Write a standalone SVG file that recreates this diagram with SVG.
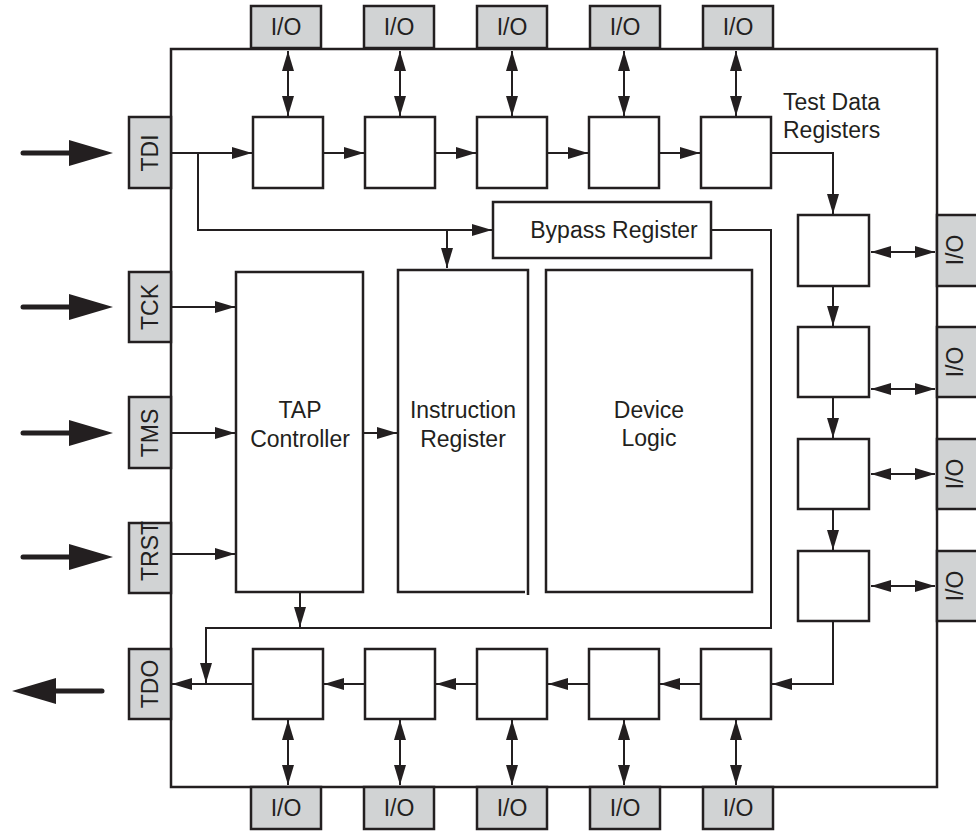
<svg xmlns="http://www.w3.org/2000/svg" width="976" height="831" viewBox="0 0 976 831">
<style>
.chip{fill:#fff;stroke:#231f20;stroke-width:2.5}
.reg{fill:#fff;stroke:#231f20;stroke-width:2.5}
.pin{fill:#d1d3d4;stroke:#231f20;stroke-width:2.5}
.t{font-family:"Liberation Sans",Arial,sans-serif;font-size:23px;fill:#231f20;text-anchor:middle}
.tl{font-family:"Liberation Sans",Arial,sans-serif;font-size:23px;fill:#231f20}
.c{fill:none;stroke:#231f20;stroke-width:2}
.a{marker-end:url(#ah)}
.d{marker-start:url(#ah);marker-end:url(#ah)}
.big{fill:none;stroke:#231f20;stroke-width:5;stroke-linecap:round}
.bh{fill:#231f20}
</style>
<defs>
<marker id="ah" markerUnits="userSpaceOnUse" markerWidth="22" markerHeight="14" refX="20" refY="6" orient="auto-start-reverse" viewBox="0 0 22 12">
<path d="M0,0 L20,6 L0,12 z" fill="#231f20"/>
</marker>
</defs>
<rect width="976" height="831" fill="#fff"/>
<g id="chip"><rect class="chip" x="171" y="49" width="766" height="738"/></g>

<g id="io-top-1"><rect class="pin" x="251" y="6" width="70" height="42"/><text class="t" x="286" y="35">I/O</text></g>
<g id="io-top-2"><rect class="pin" x="364" y="6" width="70" height="42"/><text class="t" x="399" y="35">I/O</text></g>
<g id="io-top-3"><rect class="pin" x="477" y="6" width="70" height="42"/><text class="t" x="512" y="35">I/O</text></g>
<g id="io-top-4"><rect class="pin" x="590" y="6" width="70" height="42"/><text class="t" x="625" y="35">I/O</text></g>
<g id="io-top-5"><rect class="pin" x="703" y="6" width="70" height="42"/><text class="t" x="738" y="35">I/O</text></g>

<g id="io-bot-1"><rect class="pin" x="251" y="787" width="70" height="42"/><text class="t" x="286" y="816">I/O</text></g>
<g id="io-bot-2"><rect class="pin" x="364" y="787" width="70" height="42"/><text class="t" x="399" y="816">I/O</text></g>
<g id="io-bot-3"><rect class="pin" x="477" y="787" width="70" height="42"/><text class="t" x="512" y="816">I/O</text></g>
<g id="io-bot-4"><rect class="pin" x="590" y="787" width="70" height="42"/><text class="t" x="625" y="816">I/O</text></g>
<g id="io-bot-5"><rect class="pin" x="703" y="787" width="70" height="42"/><text class="t" x="738" y="816">I/O</text></g>

<g id="io-right-1"><rect class="pin" x="937" y="215" width="45" height="71"/><text class="t" transform="translate(955,250) rotate(-90)" y="8">I/O</text></g>
<g id="io-right-2"><rect class="pin" x="937" y="327" width="45" height="70"/><text class="t" transform="translate(955,362) rotate(-90)" y="8">I/O</text></g>
<g id="io-right-3"><rect class="pin" x="937" y="439" width="45" height="70"/><text class="t" transform="translate(955,474) rotate(-90)" y="8">I/O</text></g>
<g id="io-right-4"><rect class="pin" x="937" y="551" width="45" height="70"/><text class="t" transform="translate(955,586) rotate(-90)" y="8">I/O</text></g>

<g id="pin-tdi"><rect class="pin" x="129" y="117" width="42" height="71"/><text class="t" transform="translate(150,153) rotate(-90)" y="8">TDI</text></g>
<g id="pin-tck"><rect class="pin" x="129" y="272" width="42" height="70"/><text class="t" transform="translate(150,307) rotate(-90)" y="8">TCK</text></g>
<g id="pin-tms"><rect class="pin" x="129" y="397" width="42" height="71"/><text class="t" transform="translate(150,433) rotate(-90)" y="8">TMS</text></g>
<g id="pin-trst"><rect class="pin" x="129" y="523" width="42" height="70"/><text class="t" transform="translate(150,551) rotate(-90)" y="8" font-size="24">TRST</text></g>
<g id="pin-tdo"><rect class="pin" x="129" y="649" width="42" height="70"/><text class="t" transform="translate(150,684) rotate(-90)" y="8">TDO</text></g>

<g id="reg-top-1"><rect class="reg" x="253" y="117" width="70" height="71"/></g>
<g id="reg-top-2"><rect class="reg" x="365" y="117" width="70" height="71"/></g>
<g id="reg-top-3"><rect class="reg" x="477" y="117" width="70" height="71"/></g>
<g id="reg-top-4"><rect class="reg" x="589" y="117" width="70" height="71"/></g>
<g id="reg-top-5"><rect class="reg" x="701" y="117" width="70" height="71"/></g>

<g id="reg-right-1"><rect class="reg" x="798" y="215" width="71" height="71"/></g>
<g id="reg-right-2"><rect class="reg" x="798" y="327" width="71" height="70"/></g>
<g id="reg-right-3"><rect class="reg" x="798" y="439" width="71" height="70"/></g>
<g id="reg-right-4"><rect class="reg" x="798" y="551" width="71" height="70"/></g>

<g id="reg-bot-1"><rect class="reg" x="253" y="649" width="70" height="70"/></g>
<g id="reg-bot-2"><rect class="reg" x="365" y="649" width="70" height="70"/></g>
<g id="reg-bot-3"><rect class="reg" x="477" y="649" width="70" height="70"/></g>
<g id="reg-bot-4"><rect class="reg" x="589" y="649" width="70" height="70"/></g>
<g id="reg-bot-5"><rect class="reg" x="701" y="649" width="70" height="70"/></g>

<g id="test-data-label"><text class="tl" x="783" y="110">Test Data</text><text class="tl" x="783" y="138">Registers</text></g>

<g id="bypass"><rect class="reg" x="493" y="202" width="218" height="56"/><text class="t" x="614" y="238">Bypass Register</text></g>
<g id="tap"><rect class="reg" x="236" y="272" width="127" height="320"/><text class="t" x="300" y="418">TAP</text><text class="t" x="300" y="447">Controller</text></g>
<g id="ir"><path class="reg" fill="none" d="M528,595 V270 H398 V592 H525"/><text class="t" x="463" y="418">Instruction</text><text class="t" x="463" y="447">Register</text></g>
<g id="logic"><rect class="reg" x="546" y="270" width="206" height="322"/><text class="t" x="649" y="418">Device</text><text class="t" x="649" y="446">Logic</text></g>

<g id="connectors">
<g id="external">
<line class="big" x1="23" y1="153" x2="75" y2="153"/><path class="bh" d="M69,140 L113,153 L69,166 z"/>
<line class="big" x1="23" y1="307" x2="75" y2="307"/><path class="bh" d="M69,294 L113,307 L69,320 z"/>
<line class="big" x1="23" y1="433" x2="75" y2="433"/><path class="bh" d="M69,420 L113,433 L69,446 z"/>
<line class="big" x1="23" y1="557" x2="75" y2="557"/><path class="bh" d="M69,544 L113,557 L69,570 z"/>
<line class="big" x1="50" y1="691" x2="102" y2="691"/><path class="bh" d="M56,678 L12,691 L56,704 z"/>
</g>
<path class="c a" d="M171,153 H252"/>
<path class="c a" d="M323,153 H364"/>
<path class="c a" d="M435,153 H476"/>
<path class="c a" d="M547,153 H588"/>
<path class="c a" d="M659,153 H700"/>
<path class="c a" d="M771,153 H833 V214"/>
<path class="c a" d="M833,286 V326"/>
<path class="c a" d="M833,397 V438"/>
<path class="c a" d="M833,509 V550"/>
<path class="c a" d="M833,621 V684 H772"/>
<path class="c a" d="M701,684 H660"/>
<path class="c a" d="M589,684 H548"/>
<path class="c a" d="M477,684 H436"/>
<path class="c a" d="M365,684 H324"/>
<path class="c a" d="M253,684 H172"/>
<path class="c a" d="M198,153 V230 H492"/>
<path class="c a" d="M447,230 V268"/>
<path class="c a" d="M711,230 H771 V628 H206 V683"/>
<path class="c a" d="M300,593 V627"/>
<path class="c a" d="M171,307 H235"/>
<path class="c a" d="M171,433 H235"/>
<path class="c a" d="M171,554 H235"/>
<path class="c a" d="M363,433 H397"/>
<path class="c d" d="M288,51 V116"/>
<path class="c d" d="M400,51 V116"/>
<path class="c d" d="M512,51 V116"/>
<path class="c d" d="M624,51 V116"/>
<path class="c d" d="M736,51 V116"/>
<path class="c d" d="M288,720 V785"/>
<path class="c d" d="M400,720 V785"/>
<path class="c d" d="M512,720 V785"/>
<path class="c d" d="M624,720 V785"/>
<path class="c d" d="M736,720 V785"/>
<path class="c d" d="M871,252 H935"/>
<path class="c d" d="M871,389 H935"/>
<path class="c d" d="M871,474 H935"/>
<path class="c d" d="M871,586 H935"/>
</g>
</svg>
